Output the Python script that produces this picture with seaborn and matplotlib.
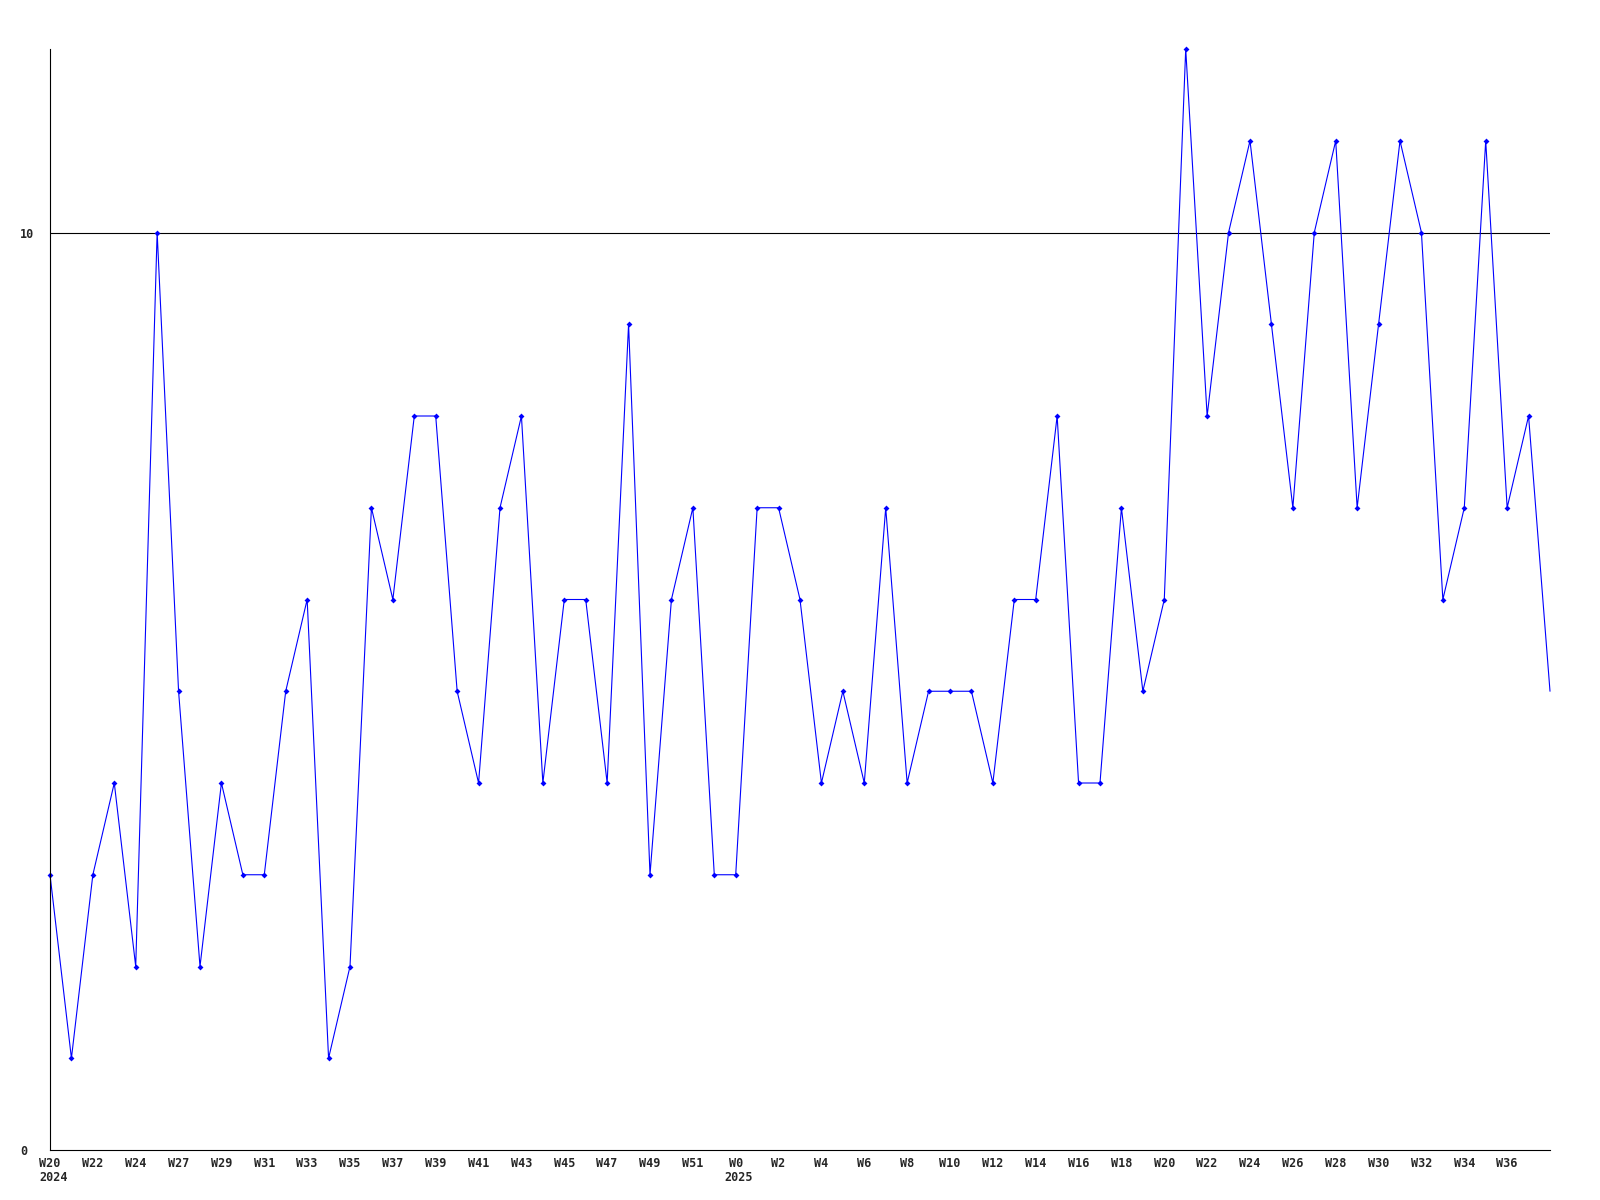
import matplotlib
matplotlib.use("Agg")
import matplotlib.pyplot as plt
import seaborn as sns
import pandas as pd

# weekly counts, W20 2024 .. W38 2025
weeks = (["W20", "W21", "W22", "W23", "W24", "W26"]
         + ["W%d" % w for w in range(27, 53)]
         + ["W%d" % w for w in range(0, 39)])
years = ["2024"] * 32 + ["2025"] * 39
counts = [3, 1, 3, 4, 2, 10, 5, 2, 4, 3,
          3, 5, 6, 1, 2, 7, 6, 8, 8, 5,
          4, 7, 8, 4, 6, 6, 4, 9, 3, 6,
          7, 3, 3, 7, 7, 6, 4, 5, 4, 7,
          4, 5, 5, 5, 4, 6, 6, 8, 4, 4,
          7, 5, 6, 12, 8, 10, 11, 9, 7, 10,
          11, 7, 9, 11, 10, 6, 7, 11, 7, 8,
          5]
ref_value = 10

df = pd.DataFrame({"idx": range(len(counts)), "count": counts,
                   "week": weeks, "year": years})

sns.set_style("white")
plt.rcParams["font.family"] = ["DejaVu Sans Mono"]

fig = plt.figure(figsize=(16, 12), dpi=100)
ax = fig.add_axes([50 / 1600, 50 / 1200, 1500 / 1600, 1101 / 1200])

sns.lineplot(data=df, x="idx", y="count", ax=ax, color="#0000ff",
             linewidth=0.8, marker="D", markersize=3, markeredgewidth=0,
             markevery=list(range(len(counts) - 1)), clip_on=False)
ax.axhline(ref_value, color="black", linewidth=0.8, zorder=1)

ax.set_xlim(0, len(counts) - 1)
ax.set_ylim(0, 12)
ax.set_xlabel("")
ax.set_ylabel("")

ticks = list(range(0, len(counts) - 1, 2))
ax.set_xticks(ticks)
ax.set_xticklabels([weeks[i] for i in ticks], fontsize=8.5, fontweight="bold")
ax.set_yticks([0, ref_value])
ax.set_yticklabels(["0", "10"], fontsize=8.5, fontweight="bold", ha="left")
ax.tick_params(axis="x", length=0, pad=5)
ax.tick_params(axis="y", length=0, pad=21.5)

# year under the first week of each year
for i in range(len(counts)):
    if i == 0 or years[i] != years[i - 1]:
        ax.annotate(years[i], xy=(i, 0), xycoords=("data", "axes fraction"),
                    xytext=(-8, -15), textcoords="offset points",
                    ha="left", va="top", fontsize=8.5, fontweight="bold")

for s in ["top", "right"]:
    ax.spines[s].set_visible(False)
for s in ["left", "bottom"]:
    ax.spines[s].set_color("black")
    ax.spines[s].set_linewidth(0.8)

fig.savefig("out.png", dpi=100, facecolor="white")
